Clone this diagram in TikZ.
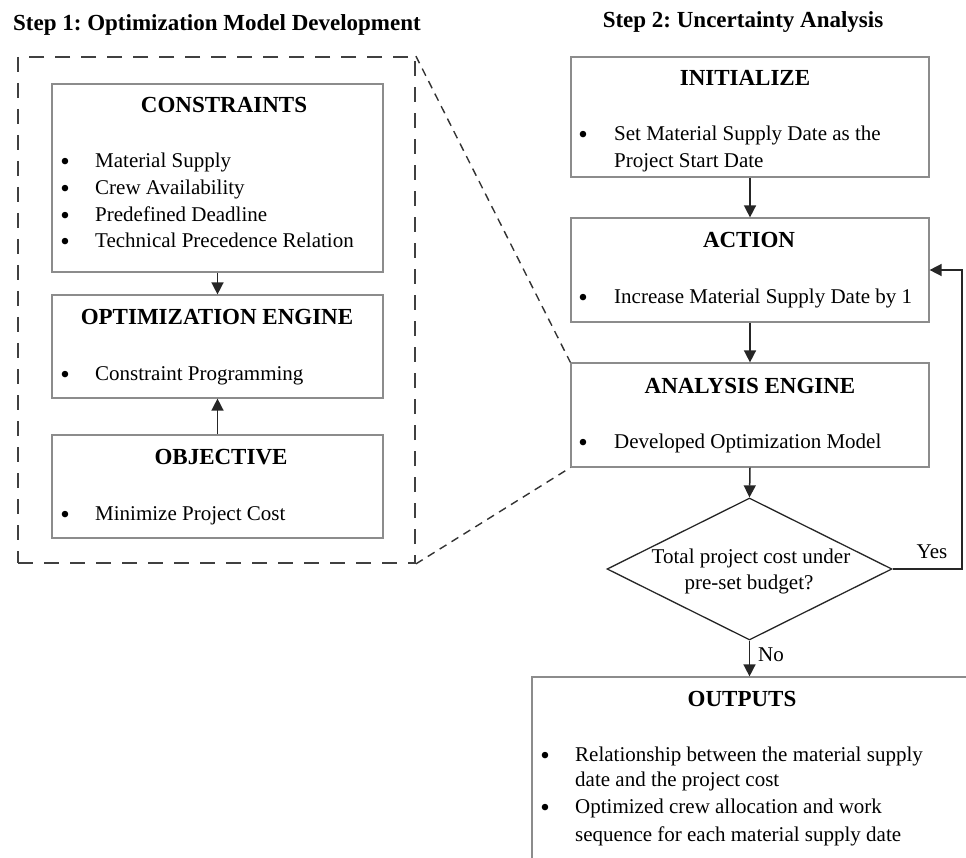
\documentclass[tikz,border=0pt]{standalone}
\usepackage{fontspec}
\setmainfont{Liberation Serif}
\usetikzlibrary{arrows.meta,shapes.geometric}
\frenchspacing
\begin{document}
\begin{tikzpicture}[x=1pt,y=-1pt,
  box/.style={draw=black!45,line width=1.2pt,rectangle,inner sep=0pt},
  ttl/.style={font=\fontsize{23}{27}\selectfont\bfseries,anchor=base,inner sep=0pt},
  body/.style={font=\fontsize{21}{26}\selectfont,anchor=base west,inner sep=0pt},
  bul/.style={font=\fontsize{27}{26}\selectfont,anchor=base,inner sep=0pt,yshift=-3pt},
  arr/.style={draw=black!85,line width=1.5pt,-{Triangle[width=12pt,length=12pt]}},
  grpbox/.style={draw=black!75,line width=1.8pt,dash pattern=on 15pt off 11pt,rectangle,inner sep=0pt},
  zoomln/.style={draw=black!80,line width=1.4pt,dash pattern=on 8pt off 6pt}]
\useasboundingbox (0,0) rectangle (966,858);
\clip (0,0) rectangle (966,858);
% titles
\node[ttl,anchor=base west] (t1) at (13,31) {Step 1: Optimization Model Development};
\node[ttl] (t2) at (743,28) {Step 2: Uncertainty Analysis};
% step 1 group
\node[grpbox,minimum width=397pt,minimum height=506pt] (grp) at (216.5,310) {};
\node[box,minimum width=331pt,minimum height=188pt] (con) at (217.5,178) {};
\node[box,minimum width=331pt,minimum height=103pt] (opt) at (217.5,346.5) {};
\node[box,minimum width=331pt,minimum height=103pt] (obj) at (217.5,486.5) {};
\node[ttl] (conT) at (224,113) {CONSTRAINTS};
\node[bul] (cb1) at (65,168) {\textbullet};
\node[body] (c1) at (95,168) {Material Supply};
\node[bul] (cb2) at (65,194.7) {\textbullet};
\node[body] (c2) at (95,194.7) {Crew Availability};
\node[bul] (cb3) at (65,221.3) {\textbullet};
\node[body] (c3) at (95,221.3) {Predefined Deadline};
\node[bul] (cb4) at (65,248) {\textbullet};
\node[body] (c4) at (95,248) {Technical Precedence Relation};
\node[ttl] (optT) at (217,325) {OPTIMIZATION ENGINE};
\node[bul] (ob1) at (65,380) {\textbullet};
\node[body] (o1) at (95,380) {Constraint Programming};
\node[ttl] (objT) at (221,464) {OBJECTIVE};
\node[bul] (jb1) at (65,520) {\textbullet};
\node[body] (j1) at (95,520) {Minimize Project Cost};
\draw[arr] (con.south) -- (opt.north);
\draw[arr] (obj.north) -- (opt.south);
% step 2
\node[box,minimum width=358pt,minimum height=120pt] (ini) at (750,117) {};
\node[box,minimum width=358pt,minimum height=104pt] (act) at (750,270) {};
\node[box,minimum width=358pt,minimum height=104pt] (ana) at (750,415) {};
\node[draw=black!85,line width=1.3pt,diamond,inner sep=0pt,minimum width=285pt,minimum height=142pt] (dec) at (749.5,569) {};
\node[box,minimum width=460pt,minimum height=260pt] (out) at (762,807) {};
\node[ttl] (iniT) at (745,86) {INITIALIZE};
\node[bul] (ib1) at (583,141) {\textbullet};
\node[body] (i1) at (614,141) {Set Material Supply Date as the};
\node[body] (i2) at (614,168) {Project Start Date};
\node[ttl] (actT) at (749,248) {ACTION};
\node[bul] (ab1) at (583,304) {\textbullet};
\node[body] (a1) at (614,304) {Increase Material Supply Date by 1};
\node[ttl] (anaT) at (750,393) {ANALYSIS ENGINE};
\node[bul] (nb1) at (583,448) {\textbullet};
\node[body] (n1) at (614,448) {Developed Optimization Model};
\node[font=\fontsize{21}{26}\selectfont,anchor=base,inner sep=0pt] (d1) at (751,563) {Total project cost under};
\node[font=\fontsize{21}{26}\selectfont,anchor=base,inner sep=0pt] (d2) at (749,589) {pre-set budget?};
\node[ttl] (outT) at (742,706) {OUTPUTS};
\node[bul] (pb1) at (545,761) {\textbullet};
\node[body] (p1) at (575,761) {Relationship between the material supply};
\node[body] (p2) at (575,786) {date and the project cost};
\node[bul] (pb2) at (545,813) {\textbullet};
\node[body] (p3) at (575,813) {Optimized crew allocation and work};
\node[body] (p4) at (575,841) {sequence for each material supply date};
\draw[arr] (ini.south) -- (act.north);
\draw[arr] (act.south) -- (ana.north);
\draw[arr] (ana.south) -- (dec.north);
\draw[arr] (dec.south) -- (dec.south |- out.north);
\coordinate (loop) at (962,0);
\draw[arr] (dec.east) -- (dec.east -| loop) |- (act.east);
\node[font=\fontsize{21}{26}\selectfont,anchor=base,inner sep=0pt] (yes) at (932,558) {Yes};
\node[font=\fontsize{21}{26}\selectfont,anchor=base west,inner sep=0pt] (no) at (758,661) {No};
% zoom lines
\draw[zoomln] (grp.north east) -- (ana.north west);
\draw[zoomln] (grp.south east) -- (ana.south west);
\end{tikzpicture}
\end{document}
